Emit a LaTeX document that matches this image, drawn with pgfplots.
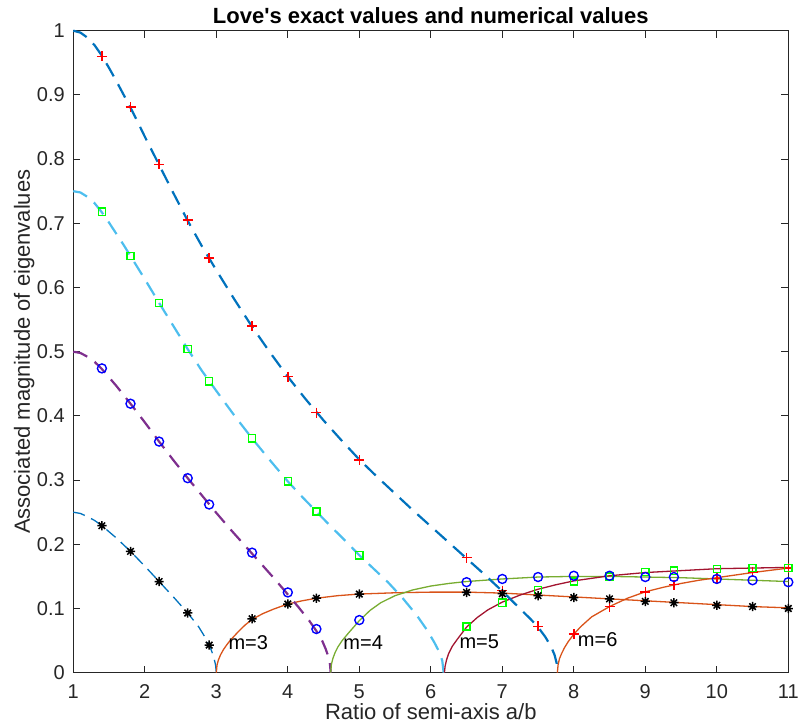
\documentclass[border=0pt]{standalone}
\usepackage{pgfplots}
\pgfplotsset{compat=1.18}
\usepackage{fontspec}
\setmainfont{Liberation Sans}

\definecolor{mblue}{RGB}{0,114,189}
\definecolor{mlblue}{RGB}{77,190,238}
\definecolor{mpurple}{RGB}{126,47,142}
\definecolor{morange}{RGB}{217,83,25}
\definecolor{mgreen}{RGB}{119,172,48}
\definecolor{mdred}{RGB}{162,20,47}
\definecolor{axgray}{RGB}{38,38,38}
\definecolor{pgreen}{RGB}{0,255,0}
\definecolor{pblue}{RGB}{0,0,255}
\definecolor{pred}{RGB}{255,0,0}

% eight-armed asterisk marker
\pgfdeclareplotmark{ast8}{%
  \pgfpathmoveto{\pgfqpoint{-\pgfplotmarksize}{0pt}}%
  \pgfpathlineto{\pgfqpoint{\pgfplotmarksize}{0pt}}%
  \pgfpathmoveto{\pgfqpoint{0pt}{-\pgfplotmarksize}}%
  \pgfpathlineto{\pgfqpoint{0pt}{\pgfplotmarksize}}%
  \pgfpathmoveto{\pgfqpoint{-0.7071\pgfplotmarksize}{-0.7071\pgfplotmarksize}}%
  \pgfpathlineto{\pgfqpoint{0.7071\pgfplotmarksize}{0.7071\pgfplotmarksize}}%
  \pgfpathmoveto{\pgfqpoint{-0.7071\pgfplotmarksize}{0.7071\pgfplotmarksize}}%
  \pgfpathlineto{\pgfqpoint{0.7071\pgfplotmarksize}{-0.7071\pgfplotmarksize}}%
  \pgfusepathqstroke}

\begin{document}
\begin{tikzpicture}
\begin{axis}[
  scale only axis, width=715pt, height=642pt,
  xmin=1, xmax=11, ymin=0, ymax=1,
  xtick={1,2,3,4,5,6,7,8,9,10,11},
  ytick={0,0.1,0.2,0.3,0.4,0.5,0.6,0.7,0.8,0.9,1},
  tick align=inside, major tick length=7pt,
  axis line style={axgray, line width=1pt},
  every tick/.style={axgray, line width=1pt},
  /pgf/number format/assume math mode=true,
  /pgf/number format/fixed,
  every tick label/.append style={font=\fontsize{20}{24}\selectfont, text=axgray},
  xticklabel style={anchor=base, inner sep=0pt, yshift=-25.5pt},
  yticklabel style={anchor=east, inner sep=0pt, xshift=-8.3pt},
  every axis title shift=0pt,
  title={Love\textquotesingle s exact values and numerical values},
  title style={at={(axis description cs:0.5,1.0115)}, anchor=base,
               inner sep=0pt, font=\fontsize{22}{26}\selectfont\bfseries},
  xlabel={Ratio of semi-axis a/b},
  xlabel style={at={(axis description cs:0.5,-0.0724)}, anchor=base, inner sep=0pt,
                font=\fontsize{22}{26}\selectfont, text=axgray},
  ylabel={Associated magnitude of eigenvalues},
  ylabel style={at={(axis description cs:-0.0606,0.5)}, anchor=base, inner sep=0pt,
                font=\fontsize{22}{26}\selectfont, text=axgray},
  clip=false,
]
% exact curve starting at 0.25
\addplot[mblue, line width=1.3pt, dash pattern=on 12pt off 7pt] coordinates {
 (1.00,0.250) (1.10,0.248) (1.20,0.243) (1.30,0.237) (1.40,0.229) (1.60,0.210)
 (1.80,0.189) (2.00,0.166) (2.20,0.142) (2.40,0.118) (2.60,0.093) (2.75,0.072)
 (2.85,0.054) (2.92,0.038) (2.96,0.026) (2.99,0.012) (3.00,0.000)};
% m=3
\addplot[morange, line width=1.3pt] coordinates {
 (3.000,0.000) (3.010,0.012) (3.030,0.020) (3.060,0.028) (3.100,0.036)
 (3.150,0.044) (3.200,0.051) (3.300,0.063) (3.400,0.074) (3.500,0.083)
 (3.650,0.092) (3.800,0.099) (4.000,0.107) (4.200,0.112) (4.400,0.116)
 (4.700,0.120) (5.000,0.1225) (5.500,0.1245) (6.000,0.1255) (6.500,0.1255)
 (7.000,0.124) (7.500,0.121) (8.000,0.118) (8.500,0.115) (9.000,0.112)
 (9.500,0.109) (10.000,0.106) (10.500,0.103) (11.000,0.101)};
% exact curve starting at 0.5
\addplot[mpurple, line width=2.2pt, dash pattern=on 15pt off 9pt] coordinates {
 (1.00,0.500) (1.10,0.498) (1.20,0.492) (1.30,0.484) (1.40,0.473) (1.50,0.460)
 (1.60,0.447) (1.80,0.419) (2.00,0.390) (2.20,0.360) (2.40,0.331) (2.60,0.303)
 (2.80,0.276) (3.00,0.249) (3.20,0.223) (3.40,0.198) (3.60,0.173) (3.80,0.148)
 (4.00,0.122) (4.15,0.102) (4.30,0.081) (4.40,0.065) (4.48,0.050) (4.53,0.037)
 (4.57,0.024) (4.59,0.013) (4.60,0.000)};
% m=4
\addplot[mgreen, line width=1.3pt] coordinates {
 (4.600,0.000) (4.610,0.013) (4.630,0.022) (4.660,0.031) (4.700,0.040)
 (4.760,0.050) (4.850,0.062) (5.000,0.081) (5.150,0.097) (5.300,0.109)
 (5.500,0.120) (5.750,0.129) (6.000,0.135) (6.250,0.139) (6.500,0.142)
 (7.000,0.146) (7.500,0.149) (8.000,0.150) (8.500,0.150) (9.000,0.149)
 (9.500,0.148) (10.000,0.146) (10.500,0.144) (11.000,0.142)};
% exact curve starting at 0.75
\addplot[mlblue, line width=2.2pt, dash pattern=on 15pt off 9pt] coordinates {
 (1.00,0.750) (1.10,0.748) (1.20,0.741) (1.30,0.731) (1.40,0.717) (1.50,0.701)
 (1.60,0.684) (1.70,0.667) (1.80,0.649) (2.00,0.613) (2.20,0.576) (2.40,0.540)
 (2.60,0.504) (2.80,0.470) (3.00,0.439) (3.25,0.401) (3.50,0.365) (3.75,0.331)
 (4.00,0.298) (4.20,0.274) (4.40,0.251) (4.60,0.228) (4.80,0.206) (5.00,0.183)
 (5.20,0.162) (5.40,0.141) (5.60,0.117) (5.80,0.090) (5.95,0.066) (6.05,0.047)
 (6.12,0.032) (6.16,0.019) (6.18,0.000)};
% m=5
\addplot[mdred, line width=1.3pt] coordinates {
 (6.190,0.000) (6.200,0.010) (6.220,0.020) (6.250,0.030) (6.300,0.041)
 (6.370,0.052) (6.500,0.071) (6.650,0.086) (6.800,0.098) (7.000,0.110)
 (7.250,0.121) (7.500,0.130) (7.750,0.137) (8.000,0.143) (8.500,0.151)
 (9.000,0.156) (9.500,0.159) (10.000,0.162) (10.500,0.163) (11.000,0.164)};
% exact curve starting at 1
\addplot[mblue, line width=2.2pt, dash pattern=on 15pt off 9pt] coordinates {
 (1.00,1.000) (1.10,0.997) (1.20,0.989) (1.30,0.977) (1.40,0.961) (1.50,0.942)
 (1.60,0.922) (1.70,0.901) (1.80,0.880) (1.90,0.858) (2.00,0.835) (2.20,0.791)
 (2.40,0.747) (2.60,0.704) (2.80,0.664) (3.00,0.627) (3.25,0.582) (3.50,0.539)
 (3.75,0.499) (4.00,0.461) (4.25,0.426) (4.50,0.393) (4.75,0.362) (5.00,0.332)
 (5.25,0.305) (5.50,0.279) (5.75,0.253) (6.00,0.228) (6.25,0.203) (6.50,0.178)
 (6.75,0.153) (7.00,0.127) (7.20,0.105) (7.40,0.083) (7.50,0.071) (7.60,0.056)
 (7.68,0.041) (7.73,0.028) (7.76,0.015) (7.77,0.000)};
% m=6
\addplot[morange, line width=1.3pt] coordinates {
 (7.770,0.000) (7.780,0.012) (7.800,0.022) (7.830,0.030) (7.870,0.039)
 (7.920,0.048) (8.000,0.060) (8.100,0.072) (8.250,0.087) (8.500,0.103)
 (8.750,0.116) (9.000,0.126) (9.250,0.133) (9.500,0.139) (9.750,0.144)
 (10.000,0.148) (10.500,0.156) (11.000,0.163)};

% numerical values
\addplot[only marks, mark=+, mark size=5pt, pred, line width=1.4pt] coordinates {
 (1.4,0.960) (1.8,0.881) (2.2,0.792) (2.6,0.705) (2.9,0.646) (3.5,0.540)
 (4.0,0.461) (4.4,0.405) (5.0,0.331) (6.5,0.179) (7.0,0.128) (7.5,0.072)
 (8.0,0.060) (8.5,0.103) (9.0,0.126) (9.4,0.137) (10.0,0.147) (10.5,0.157)
 (11.0,0.163)};
\addplot[only marks, mark=square, mark size=3.6pt, pgreen, line width=1.4pt] coordinates {
 (1.4,0.718) (1.8,0.649) (2.2,0.576) (2.6,0.504) (2.9,0.454) (3.5,0.365)
 (4.0,0.298) (4.4,0.251) (5.0,0.183) (6.5,0.072) (7.0,0.109) (7.5,0.129)
 (8.0,0.142) (8.5,0.150) (9.0,0.157) (9.4,0.159) (10.0,0.1615) (10.5,0.163)
 (11.0,0.163)};
\addplot[only marks, mark=o, mark size=4.5pt, pblue, line width=1.4pt] coordinates {
 (1.4,0.474) (1.8,0.419) (2.2,0.360) (2.6,0.303) (2.9,0.262) (3.5,0.187)
 (4.0,0.125) (4.4,0.068) (5.0,0.082) (6.5,0.141) (7.0,0.146) (7.5,0.149)
 (8.0,0.151) (8.5,0.151) (9.0,0.149) (9.4,0.149) (10.0,0.146) (10.5,0.144)
 (11.0,0.141)};
\addplot[only marks, mark=ast8, mark size=4.6pt, black, line width=1.5pt] coordinates {
 (1.4,0.229) (1.8,0.189) (2.2,0.142) (2.6,0.093) (2.9,0.043) (3.5,0.084)
 (4.0,0.107) (4.4,0.116) (5.0,0.1225) (6.5,0.125) (7.0,0.123) (7.5,0.120)
 (8.0,0.117) (8.5,0.115) (9.0,0.111) (9.4,0.109) (10.0,0.105) (10.5,0.103)
 (11.0,0.100)};

\node[anchor=west, inner sep=0pt, font=\fontsize{20}{24}\selectfont] at (axis cs:3.168,0.0475) {m=3};
\node[anchor=west, inner sep=0pt, font=\fontsize{20}{24}\selectfont] at (axis cs:4.776,0.0475) {m=4};
\node[anchor=west, inner sep=0pt, font=\fontsize{20}{24}\selectfont] at (axis cs:6.399,0.0488) {m=5};
\node[anchor=west, inner sep=0pt, font=\fontsize{20}{24}\selectfont] at (axis cs:8.055,0.0514) {m=6};
\end{axis}
\pgfresetboundingbox
\useasboundingbox ([xshift=-73.3pt,yshift=-53pt]current axis.south west)
  rectangle ([xshift=9.7pt,yshift=30.7pt]current axis.north east);
\end{tikzpicture}
\end{document}
